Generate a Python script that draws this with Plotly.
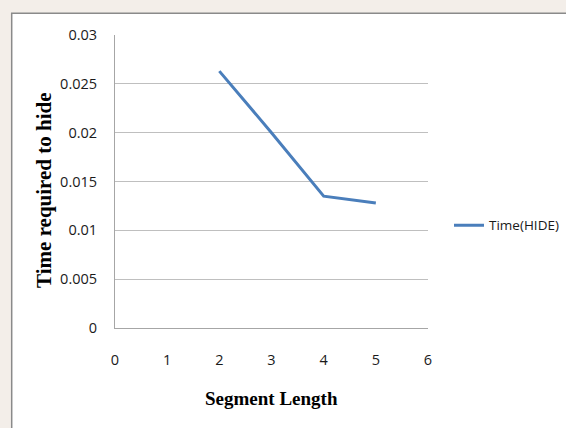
import plotly.graph_objects as go

# Data
segment_length = [2, 3, 4, 5]
time_hide = [0.0263, 0.0200, 0.0135, 0.0128]
series_name = "Time(HIDE)"
x_ticks = [0, 1, 2, 3, 4, 5, 6]
y_ticks = [0, 0.005, 0.01, 0.015, 0.02, 0.025, 0.03]
y_tick_text = ["0", "0.005", "0.01", "0.015", "0.02", "0.025", "0.03"]
x_title = "Segment Length"
y_title = "Time required to hide"

W, H = 566, 428
L, R, T, B = 115, 138, 34.5, 100.3
pw, ph = W - L - R, H - T - B

def px_x(px):
    return (px - L) / pw

def px_y(py):
    return (H - B - py) / ph

fig = go.Figure()
fig.add_trace(go.Scatter(
    x=segment_length, y=time_hide, mode="lines", name=series_name,
    line=dict(color="#4A7EBB", width=3),
))

tick_font = dict(family="Open Sans, Liberation Sans, sans-serif", size=14.5, color="#1a1a1a")

fig.update_layout(
    width=W, height=H,
    margin=dict(l=L, r=R, t=T, b=B, pad=0, autoexpand=False),
    paper_bgcolor="#f3eee9",
    plot_bgcolor="white",
    showlegend=True,
    legend=dict(
        x=px_x(449), y=px_y(225), xanchor="left", yanchor="middle",
        xref="paper", yref="paper",
        font=dict(family="Open Sans, Liberation Sans, sans-serif", size=13.5, color="#1a1a1a"),
        bgcolor="rgba(0,0,0,0)", borderwidth=0, itemwidth=30,
    ),
    xaxis=dict(
        range=[0, 6], tickvals=x_ticks, ticktext=[str(v) for v in x_ticks],
        showgrid=False, zeroline=False, showline=True, linecolor="#a6a6a6", linewidth=1,
        ticks="", tickfont=tick_font, ticklabelstandoff=19,
    ),
    yaxis=dict(
        range=[0, 0.03], tickvals=y_ticks, ticktext=y_tick_text,
        showgrid=True, gridcolor="#bfbfbf", gridwidth=1, zeroline=False,
        showline=True, linecolor="#a6a6a6", linewidth=1,
        ticks="", tickfont=tick_font, ticklabelstandoff=14,
    ),
    shapes=[dict(
        type="rect", xref="paper", yref="paper", layer="below",
        x0=px_x(11.7), x1=px_x(580), y0=px_y(440), y1=px_y(12.7),
        fillcolor="white", line=dict(color="#8a8a8a", width=1.5),
    )],
    annotations=[
        dict(text=x_title, xref="paper", yref="paper", x=px_x(271), y=px_y(398),
             xanchor="center", yanchor="middle", showarrow=False,
             font=dict(family="Liberation Serif, Times New Roman, serif", size=19, color="black", weight="bold")),
        dict(text=y_title, xref="paper", yref="paper", x=px_x(44.5), y=px_y(190),
             xanchor="center", yanchor="middle", showarrow=False, textangle=-90,
             font=dict(family="Liberation Serif, Times New Roman, serif", size=21, color="black", weight="bold")),
    ],
)

fig.write_html("out.html")
